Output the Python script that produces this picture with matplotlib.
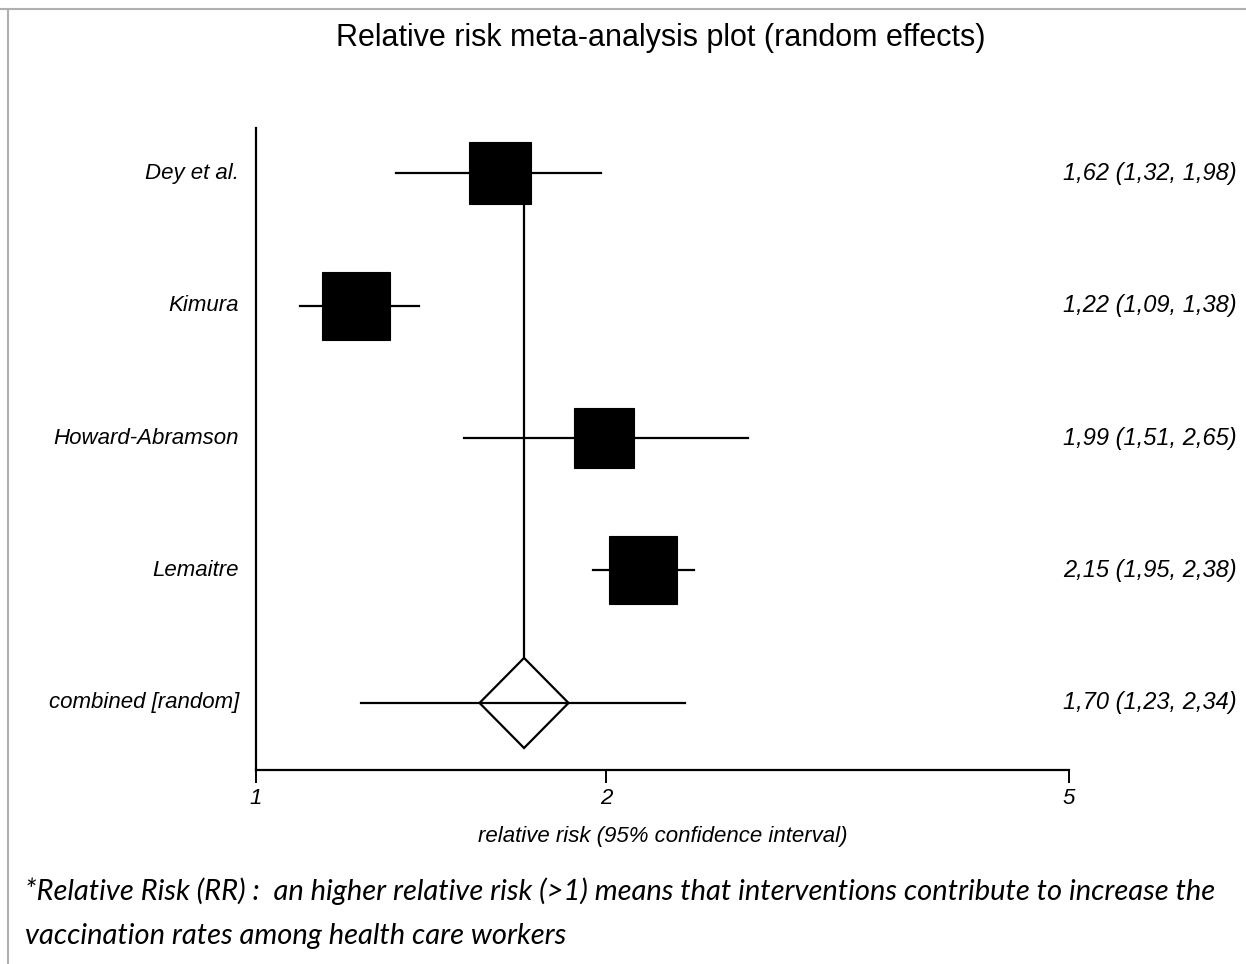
import matplotlib.pyplot as plt
import matplotlib.transforms as mtrans
from matplotlib.patches import Polygon
from matplotlib.lines import Line2D

studies = ["Dey et al.", "Kimura", "Howard-Abramson", "Lemaitre"]
rr = [1.62, 1.22, 1.99, 2.15]
lo = [1.32, 1.09, 1.51, 1.95]
hi = [1.98, 1.38, 2.65, 2.38]
weights = [23.4, 28.1, 21.2, 27.3]   # % weight, sets box area

pooled_label = "combined [random]"
pooled_rr = 1.70
pooled_lo = 1.23
pooled_hi = 2.34

xticks = [1, 2, 5]

plt.rcParams['font.family'] = ['Liberation Sans', 'DejaVu Sans']

fig = plt.figure(figsize=(12.46, 9.64), dpi=100)
ax = fig.add_axes([256/1246, 194/964, 813/1246, 642/964])

n = len(studies)
ypos = list(range(n + 1, 1, -1))   # 5,4,3,2 ; pooled at 1
ax.set_xscale('log')
ax.set_xlim(1, 5)
ax.set_ylim(0.494, 5.34)

# study rows
for i in range(n):
    ax.plot([lo[i], hi[i]], [ypos[i], ypos[i]], color='black', lw=1.6, zorder=2)
    ax.plot(rr[i], ypos[i], marker='s', color='black', mew=0.8,
            ms=9.37 * weights[i] ** 0.5, zorder=3)

# pooled diamond
h = 0.34          # half height (rows)
f = 5 ** (44.5 / 813)   # half width factor
ax.plot([pooled_lo, pooled_hi], [1, 1], color='black', lw=1.6, zorder=2)
dia = Polygon([(pooled_rr / f, 1), (pooled_rr, 1 + h), (pooled_rr * f, 1), (pooled_rr, 1 - h)],
              closed=True, facecolor='none', edgecolor='black', lw=1.6, zorder=3)
ax.add_patch(dia)
ax.plot([pooled_rr, pooled_rr], [ypos[0], 1 + h], color='black', lw=1.6, zorder=1)

# axes styling
for s in ['top', 'right']:
    ax.spines[s].set_visible(False)
ax.spines['left'].set_linewidth(1.6)
ax.spines['bottom'].set_linewidth(1.6)
ax.set_yticks([])
ax.xaxis.set_major_locator(plt.FixedLocator(xticks))
ax.xaxis.set_minor_locator(plt.NullLocator())
ax.set_xticklabels([str(t) for t in xticks], fontstyle='italic', fontsize=16)
ax.tick_params(axis='x', direction='out', length=9, width=1.4, pad=4)

ax.set_xlabel("relative risk (95% confidence interval)", fontstyle='italic', fontsize=16)
ax.xaxis.set_label_coords(0.5, -0.104)
ax.xaxis.label.set_va('center')

# row labels and values
tr = mtrans.blended_transform_factory(fig.transFigure, ax.transData)
labels = studies + [pooled_label]
vals = list(zip(rr, lo, hi)) + [(pooled_rr, pooled_lo, pooled_hi)]
for i, lab in enumerate(labels):
    y = ypos[i] if i < n else 1
    fig.text(239/1246, y, lab, transform=tr, ha='right', va='center',
             fontstyle='italic', fontsize=16)
    txt = "{:.2f} ({:.2f}, {:.2f})".format(*vals[i]).replace('.', ',')
    fig.text(1237/1246, y, txt, transform=tr, ha='right', va='center',
             fontstyle='italic', fontsize=17)

fig.text(661/1246, 1 - 38/964, "Relative risk meta-analysis plot (random effects)",
         ha='center', va='center', fontsize=22)

fig.text(25/1246, 1 - 891/964,
         "*Relative Risk (RR) :  an higher relative risk (>1) means that interventions contribute to increase the",
         ha='left', va='center', fontstyle='italic', fontsize=21, family=['Lato', 'DejaVu Sans'])
fig.text(25/1246, 1 - 936/964, "vaccination rates among health care workers",
         ha='left', va='center', fontstyle='italic', fontsize=21, family=['Lato', 'DejaVu Sans'])

# frame lines of the picture
fig.add_artist(Line2D([0, 1], [1 - 9/964, 1 - 9/964], color='#b0b0b0', lw=1.5))
fig.add_artist(Line2D([8/1246, 8/1246], [0, 1 - 9/964], color='#b0b0b0', lw=1.5))

fig.savefig('out.png', dpi=100)
